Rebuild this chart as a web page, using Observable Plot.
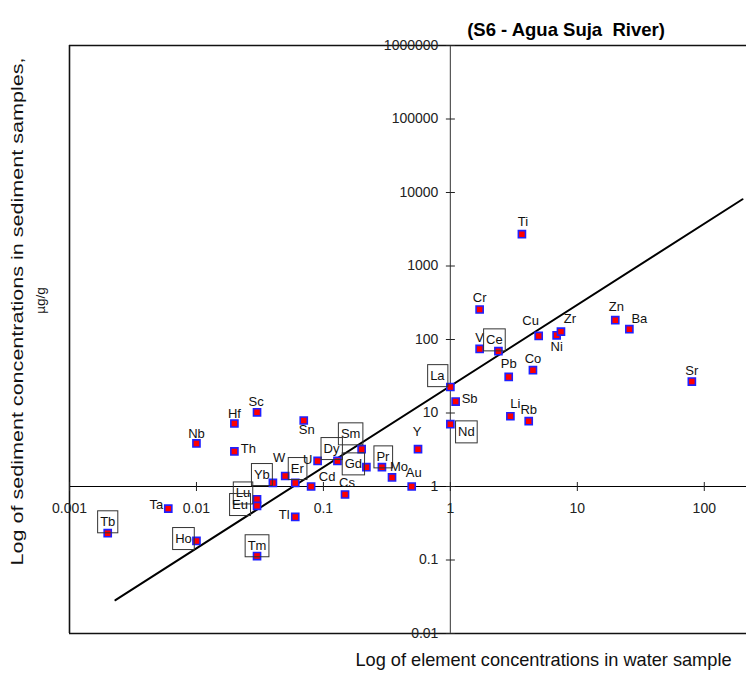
<!DOCTYPE html>
<html>
<head>
<meta charset="utf-8">
<script src="https://cdn.jsdelivr.net/npm/d3@7"></script>
<script src="https://cdn.jsdelivr.net/npm/@observablehq/plot@0.6"></script>
<style>
  html, body { margin: 0; padding: 0; background: #fff; }
  #chart { width: 746px; height: 678px; }
</style>
</head>
<body>
<div id="chart"></div>
<script>
// ---- data ----
const chartTitle = "(S6 - Agua Suja  River)";
const xAxisTitle = "Log of element concentrations in water sample";
const yAxisTitleLine1 = "Log of sediment concentrations in sediment samples,";
const yAxisTitleLine2 = "µg/g";

const elements = ["Tb","Ta","Ho","Nb","Hf","Th","Sc","Sn","Yb","W","Er","Lu","Eu","Tl","Tm",
  "U","Cd","Dy","Sm","Gd","Pr","Mo","Cs","Au","Y","Nd","Ti","Cr","V","Ce","La","Sb","Pb",
  "Co","Cu","Ni","Zr","Li","Rb","Zn","Ba","Sr"];
const waterConc = [0.0020,0.0060,0.0100,0.0100,0.0199,0.0199,0.030,0.070,0.040,0.050,0.060,0.030,0.030,0.060,0.030,
  0.090,0.080,0.129,0.200,0.218,0.289,0.347,0.148,0.496,0.556,1.0,3.66,1.70,1.70,2.39,1.0,1.10,2.88,
  4.47,4.96,6.87,7.43,2.97,4.14,19.9,25.7,79.8];
const sedimentConc = [0.232,0.50,0.182,3.85,7.2,3.0,10.2,7.9,1.12,1.39,1.12,0.67,0.545,0.386,0.113,
  2.23,1.0,2.23,3.22,1.83,1.83,1.33,0.778,1.0,3.22,7.04,2710,256,74.5,69.3,22.6,14.3,31.0,
  38.2,112,114,128,9.04,7.73,183,138,26.8];
const boxedElements = ["Tb","Ho","Yb","Er","Lu","Eu","Tm","Dy","Sm","Gd","Pr","Nd","Ce","La"];

const xTickValues = [0.001, 0.01, 0.1, 1, 10, 100];
const xTickLabels = ["0.001", "0.01", "0.1", "1", "10", "100"];
const yTickValues = [0.01, 0.1, 1, 10, 100, 1000, 10000, 100000, 1000000];
const yTickLabels = ["0.01", "0.1", "1", "10", "100", "1000", "10000", "100000", "1000000"];

const regLineX = [0.0023, 200];
const regLineY = [0.0284, 8100];

// ---- layout (label offsets in px, text centre relative to marker) ----
const labelOffset = {
  Tb:[0,-11], Ta:[-12,-4], Ho:[-13,-2], Nb:[0,-10], Hf:[0,-10], Th:[14,-3], Sc:[-1,-11], Sn:[3,9],
  Yb:[-11,-8], W:[-6,-18], Er:[2,-14], Lu:[-14,-6], Eu:[-17,-1], Tl:[-11,-2], Tm:[0,-10],
  U:[-10,-1], Cd:[16,-10], Dy:[-6,-12], Sm:[-11,-15], Gd:[-13,-3], Pr:[1,-10], Mo:[7,-11],
  Cs:[2,-12], Au:[2,-14], Y:[-1,-17], Nd:[16,8], Ti:[1,-12], Cr:[0,-12], V:[0,-11], Ce:[-4,-11],
  La:[-13,-11], Sb:[14,-3], Pb:[0,-13], Co:[0,-11], Cu:[-8,-15], Ni:[0,12], Zr:[9,-13],
  Li:[5,-12], Rb:[0,-11], Zn:[1,-13], Ba:[10,-10], Sr:[0,-11]
};

const rows = elements.map((e, i) => ({element: e, water: waterConc[i], sediment: sedimentConc[i]}));
const xTicks = xTickValues.map((v, i) => ({v, label: xTickLabels[i]}));
const yTicks = yTickValues.map((v, i) => ({v, label: yTickLabels[i]}));
const regLine = regLineX.map((x, i) => ({x, y: regLineY[i]}));

const vTick = {draw(ctx) { ctx.moveTo(0, -4.5); ctx.lineTo(0, 4.5); }};
const hTick = {draw(ctx) { ctx.moveTo(-4.5, 0); ctx.lineTo(4.5, 0); }};

const font = "'Liberation Sans', Arial, Helvetica, sans-serif";

const plot = Plot.plot({
  width: 746,
  height: 678,
  marginLeft: 69,
  marginRight: 0,
  marginTop: 45,
  marginBottom: 45,
  style: {fontFamily: font, background: "#fff", color: "#000", overflow: "visible"},
  x: {type: "log", domain: [0.001, 215], axis: null},
  y: {type: "log", domain: [0.01, 1000000], axis: null},
  marks: [
    // frame (left, top, bottom)
    Plot.ruleX([0.001], {stroke: "#111", strokeWidth: 1.6}),
    Plot.ruleY([0.01, 1000000], {stroke: "#111", strokeWidth: 1.6}),
    // axes crossing at (1, 1)
    Plot.ruleX([1], {stroke: "#555", strokeWidth: 1.2}),
    Plot.ruleY([1], {stroke: "#000", strokeWidth: 1.2}),
    Plot.dot(xTicks, {x: "v", y: () => 1, symbol: vTick, fill: "none", stroke: "#222", strokeWidth: 1}),
    Plot.dot(yTicks, {x: () => 1, y: "v", symbol: hTick, fill: "none", stroke: "#222", strokeWidth: 1}),
    Plot.text(xTicks, {x: "v", y: () => 1, text: "label", dy: 22, fontSize: 14, fill: "#222"}),
    Plot.text(yTicks, {x: () => 1, y: "v", text: "label", dx: -12, textAnchor: "end", fontSize: 14, fill: "#222"}),
    // regression line
    Plot.line(regLine, {x: "x", y: "y", stroke: "#000", strokeWidth: 2}),
    // points
    Plot.dot(rows, {x: "water", y: "sediment", symbol: "square", r: 4, fill: "#ff0000", stroke: "#2020ff", strokeWidth: 1.6}),
    // labels
    ...rows.map(r => Plot.text([r], {
      x: "water", y: "sediment", text: "element",
      dx: labelOffset[r.element][0], dy: labelOffset[r.element][1],
      fontSize: 13, fill: "#111"
    })),
    // titles
    Plot.text([chartTitle], {frameAnchor: "top", text: d => d, dx: 158, dy: -23, fontSize: 18.5, fontWeight: "bold", fill: "#000"}),
    Plot.text([xAxisTitle], {frameAnchor: "bottom", text: d => d, dx: 135.5, dy: 32, fontSize: 18.2, fill: "#111"}),
    Plot.text([yAxisTitleLine1], {frameAnchor: "left", textAnchor: "middle", text: d => d, rotate: -90, dx: -52, dy: -28, fontSize: 16.5, fill: "#111"}),
    Plot.text([yAxisTitleLine2], {frameAnchor: "left", textAnchor: "middle", text: d => d, rotate: -90, dx: -29, dy: -39, fontSize: 13.5, fill: "#111"})
  ]
});

document.getElementById("chart").appendChild(plot);

// stretch the rotated y title to its measured length
d3.select(plot).selectAll("text")
  .filter(function() { return this.textContent === yAxisTitleLine1; })
  .attr("textLength", 508).attr("lengthAdjust", "spacingAndGlyphs");

// boxes around rare-earth labels
const boxedSet = new Set(boxedElements);
d3.select(plot).selectAll("text").each(function() {
  if (!boxedSet.has(this.textContent)) return;
  const b = this.getBBox();
  const cy = b.y + b.height / 2;
  const rect = document.createElementNS("http://www.w3.org/2000/svg", "rect");
  rect.setAttribute("x", b.x - 2.5);
  rect.setAttribute("y", cy - 11);
  rect.setAttribute("width", b.width + 5);
  rect.setAttribute("height", 22);
  rect.setAttribute("fill", "none");
  rect.setAttribute("stroke", "#333");
  rect.setAttribute("stroke-width", "1");
  const t = this.getAttribute("transform");
  if (t) rect.setAttribute("transform", t);
  this.parentNode.insertBefore(rect, this);
});
</script>
</body>
</html>
